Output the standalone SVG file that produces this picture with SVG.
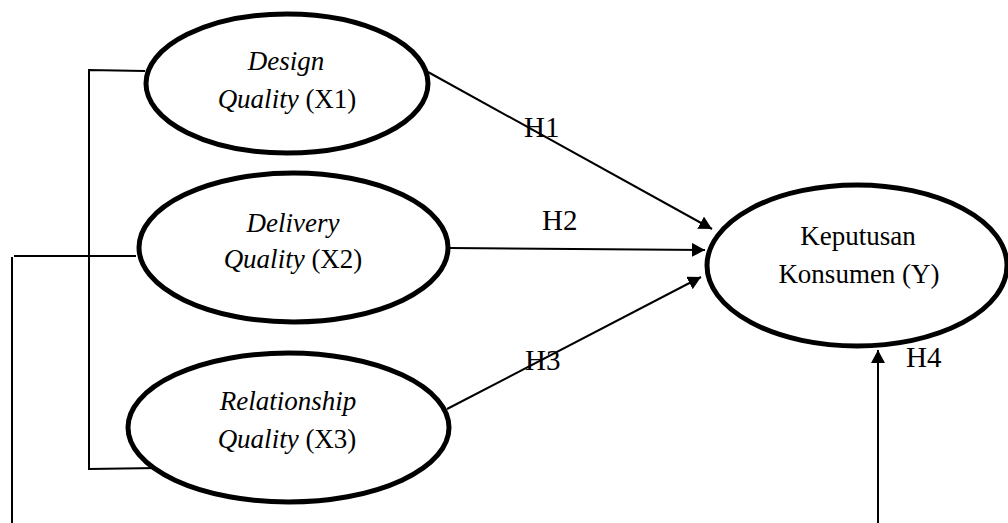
<svg xmlns="http://www.w3.org/2000/svg" width="1008" height="523" viewBox="0 0 1008 523">
  <style>
    .node { fill: #ffffff; stroke: #000000; stroke-width: 5; }
    text { font-family: 'Liberation Serif', 'DejaVu Serif', serif; fill: #000000; }
    .lbl { font-size: 27px; text-anchor: middle; }
    .it { font-style: italic; }
    .hyp { font-size: 29px; }
    .wire { fill: none; stroke: #000000; stroke-width: 2; }
    .arrow { fill: none; stroke: #000000; stroke-width: 2; marker-end: url(#head); }
  </style>
  <defs>
    <marker id="head" markerUnits="userSpaceOnUse" markerWidth="14" markerHeight="14" refX="13" refY="7" orient="auto">
      <path d="M0,0 L13,7 L0,14 Z" fill="#000000"/>
    </marker>
  </defs>
  <rect width="1008" height="523" fill="#ffffff"/>

  <!-- connectors -->
  <g id="connectors">
    <!-- bracket joining the three independent variables -->
    <polyline class="wire" points="145,71 89,70 89,469 158,468"/>
    <!-- outer line from Delivery Quality down to the bottom edge -->
    <line class="wire" x1="136" y1="256" x2="14" y2="256"/>
    <line class="wire" x1="12" y1="257" x2="12" y2="523"/>
    <!-- hypothesis paths -->
    <line class="arrow" x1="428" y1="72" x2="712" y2="229"/>
    <line class="arrow" x1="450" y1="248" x2="705" y2="250"/>
    <line class="arrow" x1="447" y1="409" x2="701" y2="277"/>
    <line class="arrow" x1="878" y1="523" x2="878" y2="350"/>
    <text class="hyp" x="524" y="137" font-family="Liberation Serif, DejaVu Serif, serif">H1</text>
    <text class="hyp" x="542" y="230" font-family="Liberation Serif, DejaVu Serif, serif">H2</text>
    <text class="hyp" x="525" y="370" font-family="Liberation Serif, DejaVu Serif, serif">H3</text>
    <text class="hyp" x="906" y="367" font-family="Liberation Serif, DejaVu Serif, serif">H4</text>
  </g>

  <g id="x1">
    <ellipse class="node" cx="287" cy="83.5" rx="141" ry="69.5"/>
    <text class="lbl" x="286" y="70"><tspan class="it">Design</tspan></text>
    <text class="lbl" x="287" y="108"><tspan class="it">Quality</tspan> (X1)</text>
  </g>

  <g id="x2">
    <ellipse class="node" cx="293.5" cy="247.5" rx="154.5" ry="74.5"/>
    <text class="lbl" x="293" y="232"><tspan class="it">Delivery</tspan></text>
    <text class="lbl" x="293" y="268"><tspan class="it">Quality</tspan> (X2)</text>
  </g>

  <g id="x3">
    <ellipse class="node" cx="288.5" cy="427.5" rx="160.5" ry="74.5"/>
    <text class="lbl" x="288" y="410"><tspan class="it">Relationship</tspan></text>
    <text class="lbl" x="287" y="448"><tspan class="it">Quality</tspan> (X3)</text>
  </g>

  <g id="y">
    <ellipse class="node" cx="857" cy="265.5" rx="150" ry="80.5"/>
    <text class="lbl" x="858" y="245">Keputusan</text>
    <text class="lbl" x="859" y="283">Konsumen (Y)</text>
  </g>
</svg>
